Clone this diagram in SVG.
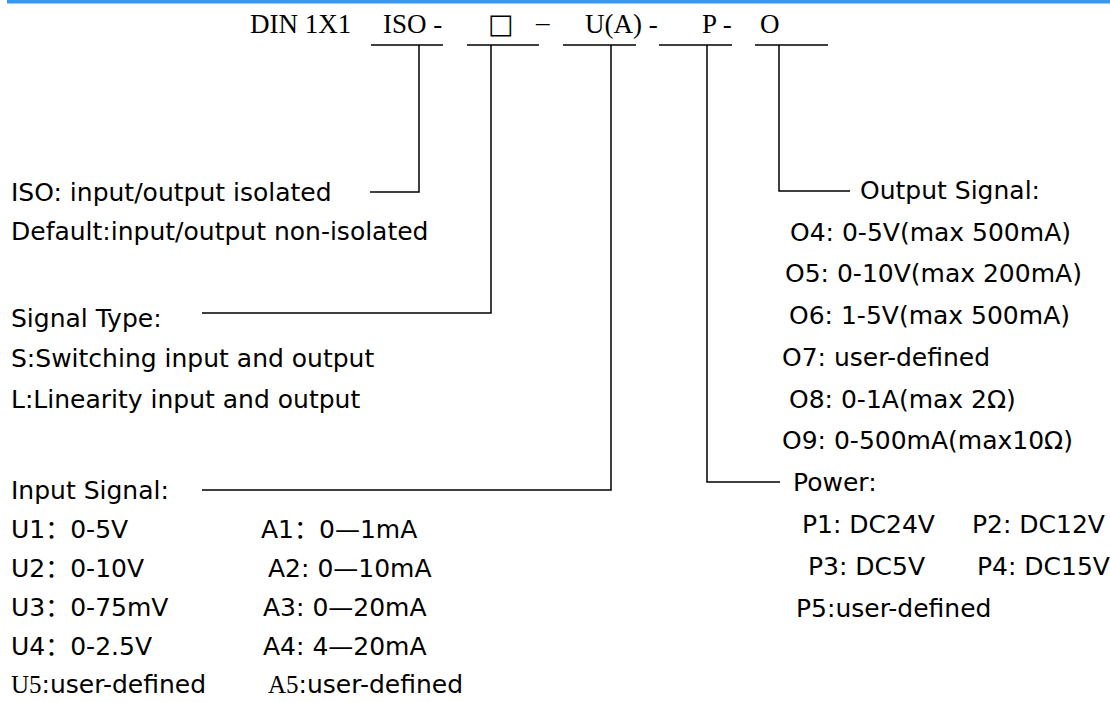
<svg xmlns="http://www.w3.org/2000/svg" width="1110" height="702" viewBox="0 0 1110 702">
<style>
.t{font-family:"Liberation Serif","Times New Roman","DejaVu Serif",serif;font-size:27px;fill:#000}
.s{font-family:"DejaVu Sans","Noto Sans CJK SC",sans-serif;font-size:25px;fill:#000}
.ser{font-family:"Liberation Serif","Times New Roman",serif}
.ln{stroke:#000;stroke-width:1.5;fill:none}
</style>
<rect x="7" y="0" width="1103" height="3.5" fill="#3797f5"/>
<g id="title">
<text class="t" x="250" y="33">DIN 1X1</text>
<text class="t" x="383" y="33">ISO -</text>
<text class="t" x="488" y="33" style="font-family:'DejaVu Sans',sans-serif;font-size:27px">□</text>
<text class="t" x="536" y="31">–</text>
<text class="t" x="585" y="33">U(A) -</text>
<text class="t" x="702" y="33">P -</text>
<text class="t" x="760" y="33">O</text>
<path class="ln" d="M371 45H443M467 45H539M563 45H636M659 45H732M755 45H828"/>
</g>
<g id="connectors">
<path class="ln" d="M419 45V192H370"/>
<path class="ln" d="M491 45V313H202"/>
<path class="ln" d="M611 45V490H202"/>
<path class="ln" d="M707 45V482H780"/>
<path class="ln" d="M779 45V191H850"/>
</g>
<g id="iso">
<text class="s" x="11" y="201">ISO: input/output isolated</text>
<text class="s" x="11" y="240">Default:input/output non-isolated</text>
</g>
<g id="signal-type">
<text class="s" x="11" y="327">Signal Type:</text>
<text class="s" x="11" y="367">S:Switching input and output</text>
<text class="s" x="11" y="408">L:Linearity input and output</text>
</g>
<g id="input-signal">
<text class="s" x="11" y="499">Input Signal:</text>
<text class="s" x="11" y="538">U1：0-5V</text>
<text class="s" x="261" y="538">A1：0—1mA</text>
<text class="s" x="11" y="577">U2：0-10V</text>
<text class="s" x="268" y="577">A2: 0—10mA</text>
<text class="s" x="11" y="616">U3：0-75mV</text>
<text class="s" x="263" y="616">A3: 0—20mA</text>
<text class="s" x="11" y="655">U4：0-2.5V</text>
<text class="s" x="263" y="655">A4: 4—20mA</text>
<text class="s" x="11" y="693"><tspan class="ser">U5</tspan>:user-defined</text>
<text class="s" x="268" y="693"><tspan class="ser">A5</tspan>:user-defined</text>
</g>
<g id="output-signal">
<text class="s" x="860" y="199">Output Signal:</text>
<text class="s" x="790" y="241">O4: 0-5V(max 500mA)</text>
<text class="s" x="785" y="282">O5: 0-10V(max 200mA)</text>
<text class="s" x="789" y="324">O6: 1-5V(max 500mA)</text>
<text class="s" x="782" y="366">O7: user-defined</text>
<text class="s" x="789" y="408">O8: 0-1A(max 2Ω)</text>
<text class="s" x="782" y="449">O9: 0-500mA(max10Ω)</text>
</g>
<g id="power">
<text class="s" x="793" y="491">Power:</text>
<text class="s" x="802" y="533">P1: DC24V</text>
<text class="s" x="972" y="533">P2: DC12V</text>
<text class="s" x="808" y="575">P3: DC5V</text>
<text class="s" x="977" y="575">P4: DC15V</text>
<text class="s" x="796" y="617">P5:user-defined</text>
</g>
</svg>
